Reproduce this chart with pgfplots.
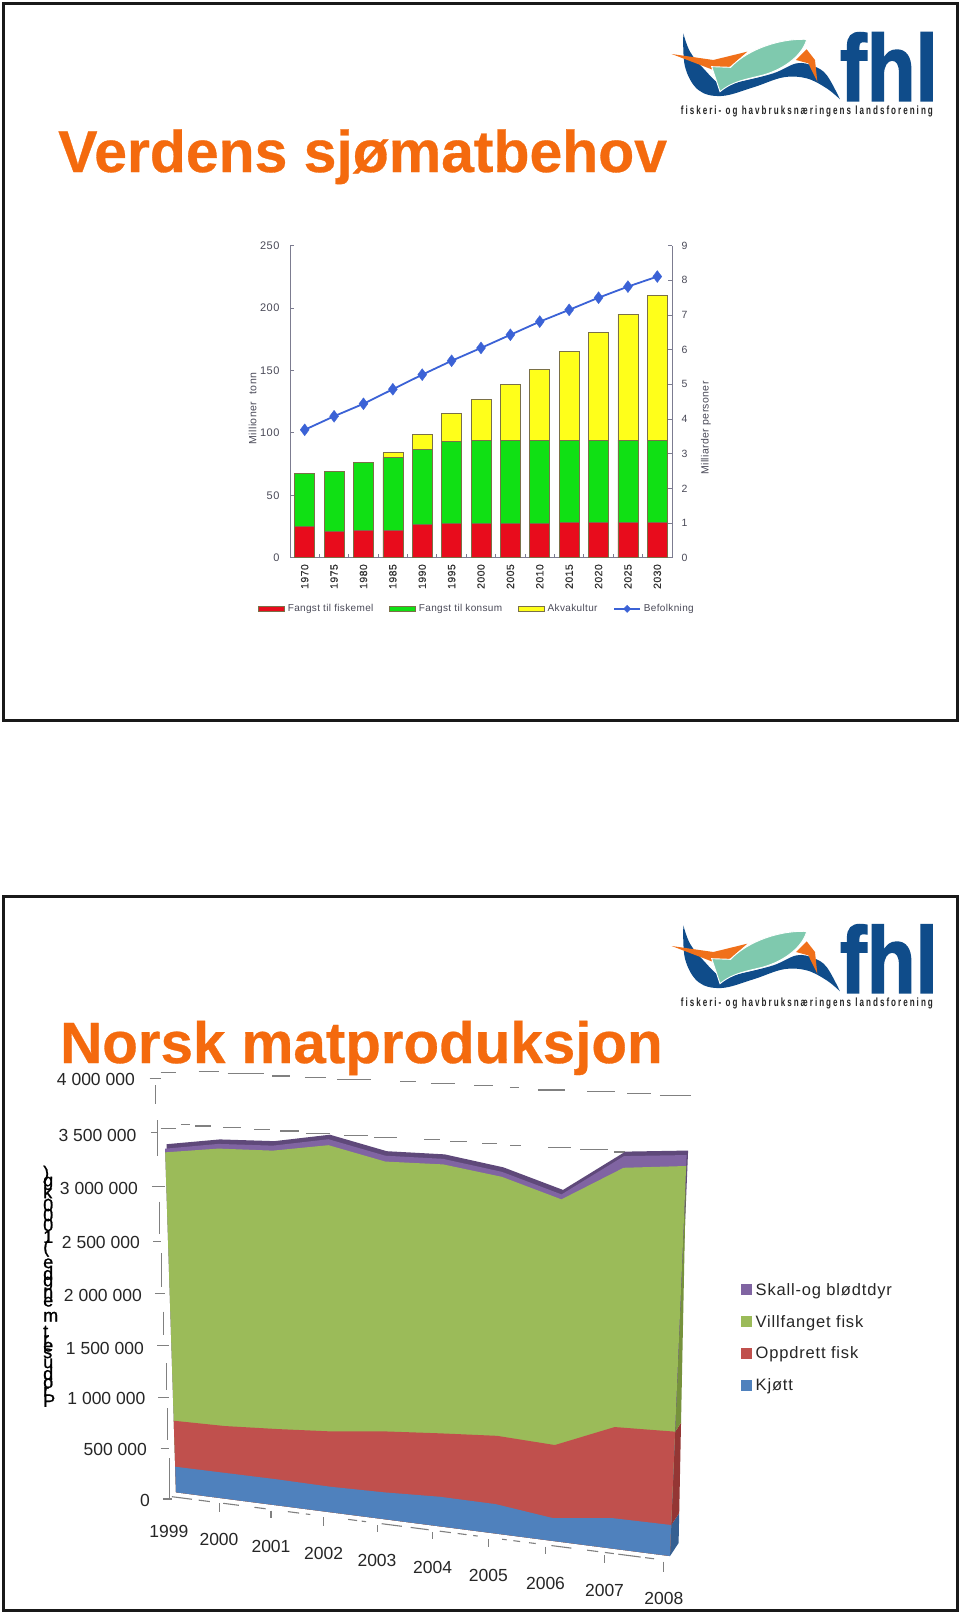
\documentclass[border=0pt]{standalone}
\usepackage{fontspec}
\usepackage{pgfplots}
\usepackage{pgfplotstable}
\pgfplotsset{compat=1.18}
\setmainfont{Liberation Sans}
\newfontfamily\ls[LetterSpace=5]{Liberation Sans}
\newfontfamily\lsl[LetterSpace=3.5]{Liberation Sans}
\newfontfamily\lsx[LetterSpace=4,FakeBold=0.5]{Liberation Sans}
\newfontfamily\lsb[LetterSpace=25]{Liberation Sans Bold}
\newfontfamily\fhlf[FakeBold=2]{Liberation Sans Bold}
\newfontfamily\ttlf[FakeBold=0.5]{Liberation Sans Bold}
\newfontfamily\yltr[FakeBold=1]{Liberation Sans}
\definecolor{orangeT}{HTML}{F46A0E}
\definecolor{axc}{HTML}{7C7C90}
\definecolor{txc}{HTML}{4A4A58}
\definecolor{fhlblue}{HTML}{0F4C8A}
\definecolor{mint}{HTML}{7FC9AE}
\definecolor{fhlor}{HTML}{F0701A}
\definecolor{gr3}{HTML}{808080}
\definecolor{cPur}{HTML}{8064A2}
\definecolor{cPurD}{HTML}{5F497A}
\definecolor{cGrn}{HTML}{9BBB59}
\definecolor{cGrnD}{HTML}{76923C}
\definecolor{cRed}{HTML}{C0504D}
\definecolor{cRedD}{HTML}{943634}
\definecolor{cBlu}{HTML}{4F81BD}
\definecolor{cBluD}{HTML}{366092}
\definecolor{bRed}{HTML}{E80C1C}
\definecolor{bGrn}{HTML}{10E014}
\definecolor{bYel}{HTML}{FFFF1A}
\definecolor{bEdge}{HTML}{7A7048}
\definecolor{lBlu}{HTML}{3B62D6}
\pgfmathdeclarefunction{tt}{1}{\pgfmathparse{0.1009*(#1-1999)+0.00113*(#1-1999)*(#1-1999)}}
\pgfmathdeclarefunction{px}{2}{\pgfmathparse{(1-tt(#1))*(176-3.24*(#2))+tt(#1)*(670+5.15*(#2))}}
\pgfmathdeclarefunction{py}{2}{\pgfmathparse{1492.3+63.7*tt(#1)-(102+21*tt(#1))*(#2)}}
\pgfmathdeclarefunction{sx}{2}{\pgfmathparse{670+5.15*(#1)+(#2)*(8.6-2.75*(#1))}}
\pgfmathdeclarefunction{sy}{2}{\pgfmathparse{1556-123*(#1)-(#2)*13*(1-(#1)/3.3)}}
\def\CB{(\thisrow{kjott}/1000)}
\def\CR{((\thisrow{kjott}+\thisrow{oppdrett})/1000)}
\def\CG{((\thisrow{kjott}+\thisrow{oppdrett}+\thisrow{vill})/1000)}
\def\CP{((\thisrow{kjott}+\thisrow{oppdrett}+\thisrow{vill}+\thisrow{skall})/1000)}
% thousand tonnes; the two rows of zeros close each area along the base
\pgfplotstableread{
year kjott oppdrett vill skall
1999 251 451 2631 36
2000 248 451 2664 45
2001 245 474 2618 47
2002 235 510 2636 55
2003 242 550 2434 53
2004 261 560 2376 49
2005 254 591 2241 43
2006 193 619 2082 42
2007 252 755 2152 97
2008 252 759 2160 89
2008 0 0 0 0
1999 0 0 0 0
}\matdata
\pgfplotstableread{
i fisk konsum akva pop
0 25.4 41.9 0 3.69
1 21.0 47.9 0 4.08
2 21.6 54.5 0 4.44
3 22.2 58.2 3.7 4.86
4 26.4 60.6 11.6 5.28
5 27.8 65.1 22.5 5.68
6 27.8 66.5 32.3 6.05
7 27.8 66.5 44.3 6.43
8 27.8 66.5 56.9 6.81
9 28.3 66.0 70.7 7.15
10 28.3 66.0 86.0 7.50
11 28.3 66.0 100.9 7.82
12 28.3 66.0 116.2 8.11
}\fisk
\newcommand\logo[1]{%
\begin{scope}[shift={(640pt,{-(10+#1)*1pt})},x=.3333pt,y=-.3333pt]
\fill[fhlblue] plot[smooth,tension=.6] coordinates {(130,70)(135,170)(175,240)(245,258)(340,232)(430,202)(500,205)(560,235)(600,268)}
  -- plot[smooth,tension=.6] coordinates {(600,268)(560,195)(520,168)(470,160)(400,190)(300,215)(245,225)(190,175)(150,125)(130,70)} -- cycle;
\fill[fhlor] (95,132) -- (215,178) -- (270,170) -- (322,125) -- (220,150) -- cycle;
\fill[fhlor] (500,118) -- (468,150) -- (505,160) -- (532,215) -- (525,150) -- cycle;
\filldraw[fill=mint,draw=white,line width=.9pt] (215,170) -- (272,172) .. controls (310,130) and (400,85) .. (500,88) .. controls (490,130) and (440,175) .. (370,195) .. controls (320,208) and (280,212) .. (240,245) -- cycle;
\node[anchor=south west,inner sep=0pt,text=fhlblue,font=\fhlf\fontsize{94}{94}\selectfont,xscale=.85] at (600,273) {fhl};
\node[anchor=west,inner sep=0pt,text=black!85] at (122,305) {\resizebox{252pt}{8.6pt}{\lsb fiskeri- og havbruksnæringens landsforening}};
\end{scope}}
\begin{document}
\begin{tikzpicture}
\path[use as bounding box,fill=white] (0,0) rectangle (960pt,-1614pt);
\begin{scope}[x=1pt,y=-1pt]
% frames
\draw[line width=3pt,black!90] (3,3) rectangle (957,720);
\draw[line width=3pt,black!90] (3,896) rectangle (957,1610);
\logo{0}\logo{892}
\node[anchor=base west,inner sep=0pt,text=orangeT,font=\ttlf\fontsize{58.9}{60}\selectfont] at (58,172) {Verdens sjømatbehov};
\node[anchor=base west,inner sep=0pt,text=orangeT,font=\ttlf\fontsize{58.3}{60}\selectfont] at (60,1063) {Norsk matproduksjon};
% 3-D chart scaffold, broken as in the reference
\tikzset{ax/.style={draw=gr3,line width=1.1pt}}
\foreach \a/\b/\y in {445/490/125,510/592/130,610/650/138,683/730/143,755/830/148,897/932/155,965/1020/160,1062/1105/166,1142/1163/173,1205/1265/180,1315/1378/185,1405/1458/190,1478/1547/197,360/395/128,
 405/425/283,437/472/288,500/540/293,570/605/298,628/670/303,685/740/310,770/825/316,838/890/322,950/985/328,1008/1045/335,1080/1113/341,1143/1168/347,1228/1278/352,1300/1362/358,1375/1400/366,360/395/295,
 335/360/145,338/352/308,340/370/470,343/360/635,347/370/790}
  \draw[ax] ({\a/2.24},{1030+\y/3}) -- ({\b/2.24},{1030+\y/3});
\foreach \x/\p/\q in {348/165/222,352/270/378,358/515/612,362/670/770,366/845/900}
  \draw[ax] ({\x/2.24},{1030+\p/3}) -- ({\x/2.24},{1030+\q/3});
\foreach \x/\p/\q in {367/0/45,372/130/210,376/265/360,380/415/535}
  \draw[ax] ({\x/2.24},{1320+\p/3}) -- ({\x/2.24},{1320+\q/3});
\foreach \a/\b/\y in {352/378/77,355/378/233,360/378/385,365/385/537}
  \draw[ax] ({\a/2.24},{1320+\y/3}) -- ({\b/2.24},{1320+\y/3});
\foreach \a/\b in {385/430,445/470,500/535,570/595,645/670,685/695,780/800,810/820,855/900,920/960,985/1010,1025/1045,1060/1070,1125/1135,1150/1165,1185/1200,1235/1280,1315/1340,1355/1375,1385/1435,1445/1465}
  \draw[ax] ({\a/2.24},{1320+(530+(\a-385)*.1725)/3}) -- ({\b/2.24},{1320+(530+(\b-385)*.1725)/3});
\foreach \x/\p/\q in {491/550/575,607/572/595,725/592/617,845/615/637,969/637/658,1094/657/682,1222/680/703,1354/705/730,1487/725/755}
  \draw[ax] ({\x/2.24},{1320+\p/3}) -- ({\x/2.24},{1320+\q/3});
% y tick labels
\tikzset{tl/.style={anchor=east,inner sep=0pt,text=black!85,font=\fontsize{17.5}{18}\selectfont}}
\foreach \x/\y/\t in {135/1079/4 000 000,136.6/1135/3 500 000,138/1188/3 000 000,140/1242/2 500 000,142/1295/2 000 000,144/1348/1 500 000,145.5/1398/1 000 000,147/1449/500 000,150/1500/0}
  \node[tl] at (\x,\y) {\t};
\foreach \x/\y/\t in {168.8/1531.7/1999,219/1539.7/2000,271/1546.3/2001,323.7/1553.3/2002,377/1560.7/2003,432.6/1567.7/2004,488.4/1575/2005,545.5/1583/2006,604.5/1590.3/2007,663.8/1598.7/2008}
  \node[anchor=center,inner sep=0pt,text=black!85,font=\fontsize{17.5}{18}\selectfont] at (\x,\y) {\t};
% the y title, its letters stacked upright and overlapping
\foreach \ch/\z in {P/752,r/725,o/700,d/670,u/640,s/610,e/590,r/570,t/545,m/500,e/455,n/430,g/400,d/370,e/340,{(}/295,1/260,0/225,0/195,0/165,k/125,g/100,{)}/72}
  \node[anchor=west,inner sep=0pt,text=black,font=\yltr\fontsize{18}{18}\selectfont] at (43,{1150+\z/3}) {\ch};
\end{scope}

% upper chart: bars on the left axis
\begin{axis}[name=a1,at={(290pt,-557.7pt)},anchor=south west,scale only axis,width=382pt,height=312pt,
  xmin=-0.5,xmax=12.5,ymin=0,ymax=250,ybar stacked,bar width=20pt,
  axis y line*=left,axis x line*=bottom,axis line style={draw=axc,line width=.9pt,-},
  tick style={draw=axc,line width=.9pt},tickwidth=3.5pt,
  ytick={0,50,...,250},
  xtick={-0.5,0.5,...,12.5},xticklabels={},
  extra x ticks={0,...,12},
  extra x tick labels={1970,1975,1980,1985,1990,1995,2000,2005,2010,2015,2020,2025,2030},
  extra x tick style={tickwidth=0pt,tick label style={rotate=90,anchor=east,xshift=-3pt,font=\lsx\fontsize{10.5}{11}\selectfont,text=black!80}},
  /pgf/number format/assume math mode=true,
  yticklabel style={font=\ls\fontsize{11}{11}\selectfont,text=txc,xshift=-7pt},
  ylabel={Millioner\ \ tonn},ylabel style={at={(rel axis cs:-0.0976,0.4776)},anchor=center,rotate=0,font=\ls\fontsize{10.5}{11}\selectfont,text=txc,inner sep=0pt},
  legend style={at={(axis description cs:-0.0835,-0.164)},anchor=west,draw=none,fill=none,inner sep=0pt,legend columns=4,font=\lsl\fontsize{10}{11}\selectfont,text=txc,
    /tikz/every even column/.append style={column sep=13pt},nodes={inner xsep=3pt,inner ysep=0pt}},
  legend cell align=left,
  clip=false]
\addplot[fill=bRed,draw=bEdge,line width=.6pt,legend image code/.code={\draw[fill=bRed,draw=bEdge,line width=.5pt](0pt,-2.5pt) rectangle (26pt,2.5pt);}] table[x=i,y=fisk]{\fisk};
\addlegendentry{Fangst til fiskemel}
\addplot[fill=bGrn,draw=bEdge,line width=.6pt,legend image code/.code={\draw[fill=bGrn,draw=bEdge,line width=.5pt](0pt,-2.5pt) rectangle (26pt,2.5pt);}] table[x=i,y=konsum]{\fisk};
\addlegendentry{Fangst til konsum}
\addplot[fill=bYel,draw=bEdge,line width=.6pt,legend image code/.code={\draw[fill=bYel,draw=bEdge,line width=.5pt](0pt,-2.5pt) rectangle (26pt,2.5pt);}] table[x=i,y=akva]{\fisk};
\addlegendentry{Akvakultur}
\addlegendimage{legend image code/.code={\draw[draw=lBlu,line width=1.4pt](0pt,0pt) -- (26pt,0pt);\fill[lBlu] (13pt,3.6pt) -- (16.6pt,0pt) -- (13pt,-3.6pt) -- (9.4pt,0pt) -- cycle;}}
\addlegendentry{Befolkning}
\end{axis}
% upper chart: population on the right axis
\begin{axis}[at={(290pt,-557.7pt)},anchor=south west,scale only axis,width=382pt,height=312pt,
  xmin=-0.5,xmax=12.5,ymin=0,ymax=9,
  axis y line*=right,axis x line=none,axis line style={draw=axc,line width=.9pt,-},
  tick style={draw=axc,line width=.9pt},tickwidth=4pt,
  ytick={0,...,9},
  /pgf/number format/assume math mode=true,
  yticklabel style={font=\ls\fontsize{10.5}{11}\selectfont,text=txc,xshift=6pt},
  ylabel={Milliarder personer},ylabel style={at={(rel axis cs:1.089,0.416)},anchor=center,font=\lsl\fontsize{10.5}{11}\selectfont,text=txc,inner sep=0pt},
  clip=false]
\addplot[draw=lBlu,line width=1.8pt,mark=diamond*,mark size=6pt,mark options={fill=lBlu,draw=lBlu,line width=.3pt}] table[x=i,y=pop]{\fisk};
\end{axis}

% lower chart: the stacked areas, projected as the reference draws them
\begin{axis}[at={(0pt,0pt)},anchor=north west,scale only axis,width=960pt,height=1614pt,
  xmin=0,xmax=960,ymin=0,ymax=1614,y dir=reverse,hide axis,clip=false,
  legend style={at={(axis cs:740.5,1283)},anchor=north west,draw=none,fill=none,inner sep=0pt,row sep=18.4pt,font=\ls\fontsize{16.5}{18}\selectfont,text=black!85,
    nodes={inner xsep=4pt,inner ysep=0pt}},
  legend cell align=left,
  legend image code/.code={\fill[#1] (0pt,-5.5pt) rectangle (11pt,5.5pt);}]
\addplot[forget plot,fill=cPurD,draw=none] table[x expr={px(\thisrow{year},\CP)+1.5},y expr={py(\thisrow{year},\CP)-4.5}]{\matdata};
\addplot[forget plot,fill=cBluD,draw=none] table[row sep=\\,x expr={sx(\thisrow{v},\thisrow{d})},y expr={sy(\thisrow{v},\thisrow{d})}]{v d\\0 0\\0.252 0\\0.252 1\\0 1\\};
\addplot[forget plot,fill=cRedD,draw=none] table[row sep=\\,x expr={sx(\thisrow{v},\thisrow{d})},y expr={sy(\thisrow{v},\thisrow{d})}]{v d\\0.252 0\\1.011 0\\1.011 1\\0.252 1\\};
\addplot[forget plot,fill=cGrnD,draw=none] table[row sep=\\,x expr={sx(\thisrow{v},\thisrow{d})},y expr={sy(\thisrow{v},\thisrow{d})}]{v d\\1.011 0\\3.171 0\\3.171 1\\1.011 1\\};
\addplot[fill=cPur,draw=none] table[x expr={px(\thisrow{year},\CP)},y expr={py(\thisrow{year},\CP)}]{\matdata};
\addlegendentry{Skall-og blødtdyr}
\addplot[fill=cGrn,draw=none] table[x expr={px(\thisrow{year},\CG)},y expr={py(\thisrow{year},\CG)}]{\matdata};
\addlegendentry{Villfanget fisk}
\addplot[fill=cRed,draw=none] table[x expr={px(\thisrow{year},\CR)},y expr={py(\thisrow{year},\CR)}]{\matdata};
\addlegendentry{Oppdrett fisk}
\addplot[fill=cBlu,draw=none] table[x expr={px(\thisrow{year},\CB)},y expr={py(\thisrow{year},\CB)}]{\matdata};
\addlegendentry{Kjøtt}
\end{axis}
\end{tikzpicture}
\end{document}
